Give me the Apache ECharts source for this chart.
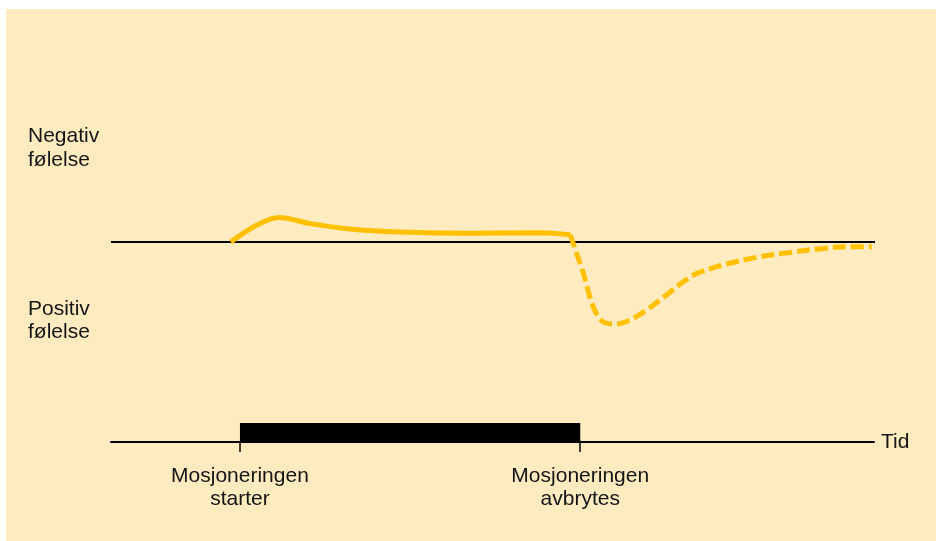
<!DOCTYPE html>
<html>
<head>
<meta charset="utf-8">
<script src="https://cdn.jsdelivr.net/npm/echarts@6/dist/echarts.min.js"></script>
<style>
html,body{margin:0;padding:0;background:#fff;}
#chart{width:936px;height:541px;}
</style>
</head>
<body>
<div id="chart"></div>
<script>
// Time markers (x units: 0..100 along the time axis)
const exerciseStart = 16.9;
const exerciseStop = 61.5;
const tickLabels = ["Mosjoneringen\nstarter", "Mosjoneringen\navbrytes"];
const axisName = "Tid";
const negativeLabel = "Negativ\nfølelse";
const positiveLabel = "Positiv\nfølelse";

// Feeling during exercise (solid) – positive values = negative feeling
const duringX = [15.7, 18.9, 22.0, 26.1, 31.3, 37.9, 47.0, 56.2, 60.2];
const duringY = [0, 8.0, 12.3, 9.2, 6.5, 5.0, 4.4, 4.6, 3.6];

// Feeling after exercise stops (dashed)
const afterX = [60.2, 60.8, 61.9, 63.2, 64.5, 66.1, 68.0, 70.2, 72.8, 75.0, 76.8, 80.2, 84.6, 89.0, 93.3, 96.9, 99.7];
const afterY = [3.6, -3.2, -15.5, -32.4, -39.9, -41, -39, -34, -26.5, -19.9, -15.7, -11.5, -7.7, -5.2, -3.2, -2.4, -2.4];

// Neutral baseline and exercise bar extents
const baselineX = [0, 100.66];
const baselineY = [0, 0];
const barBottom = -100;
const barTop = -90.5;

const zip = (xs, ys) => xs.map((x, i) => [x, ys[i]]);
const FONT = "Liberation Sans, Arial, sans-serif";
const TXT = "#141414";
const GOLD = "#FFC000";

const chart = echarts.init(document.getElementById('chart'));
chart.setOption({
  backgroundColor: '#ffffff',
  animation: false,
  grid: { left: 111, right: 62, top: 42, bottom: 99 },
  xAxis: {
    type: 'value', min: 0, max: 100,
    splitLine: { show: false },
    axisLine: { show: true, onZero: false, lineStyle: { color: '#000', width: 2 } },
    axisTick: { show: true, customValues: [exerciseStart, exerciseStop], length: 10, lineStyle: { color: '#000', width: 1.5 } },
    axisLabel: {
      show: true, customValues: [exerciseStart, exerciseStop],
      formatter: v => (Math.abs(v - exerciseStart) < 0.01 ? tickLabels[0] : tickLabels[1]),
      margin: 23, fontSize: 21, lineHeight: 23, color: TXT, fontFamily: FONT, align: 'center'
    },
    name: axisName, nameLocation: 'end', nameGap: 7,
    nameTextStyle: { fontSize: 21, color: TXT, fontFamily: FONT, verticalAlign: 'middle', padding: [0, 0, 4, 0] }
  },
  yAxis: { type: 'value', min: -100, max: 100, show: false },
  graphic: [
    { type: 'rect', z: -10, shape: { x: 6, y: 9, width: 930, height: 532 }, style: { fill: '#FEECC0' } },
    { type: 'text', z: 100, style: { text: negativeLabel, x: 28, y: 124.5, font: '21px ' + FONT, lineHeight: 23.5, fill: TXT, verticalAlign: 'top' } },
    { type: 'text', z: 100, style: { text: positiveLabel, x: 28, y: 297, font: '21px ' + FONT, lineHeight: 23.5, fill: TXT, verticalAlign: 'top' } }
  ],
  series: [
    {
      type: 'line', data: zip(baselineX, baselineY), clip: false, symbol: 'none', z: 1,
      lineStyle: { color: '#000', width: 2 }, silent: true
    },
    {
      type: 'line', data: zip(duringX, duringY), smooth: 0.35, symbol: 'none', z: 3,
      lineStyle: { color: GOLD, width: 5, cap: 'butt' },
      markArea: {
        silent: true,
        itemStyle: { color: '#000' },
        data: [[{ xAxis: exerciseStart, yAxis: barBottom }, { xAxis: exerciseStop, yAxis: barTop }]]
      }
    },
    {
      type: 'line', data: zip(afterX, afterY), smooth: 0.35, symbol: 'none', z: 3,
      lineStyle: { color: GOLD, width: 5, type: [13, 5], cap: 'butt' }
    }
  ]
});
</script>
</body>
</html>
